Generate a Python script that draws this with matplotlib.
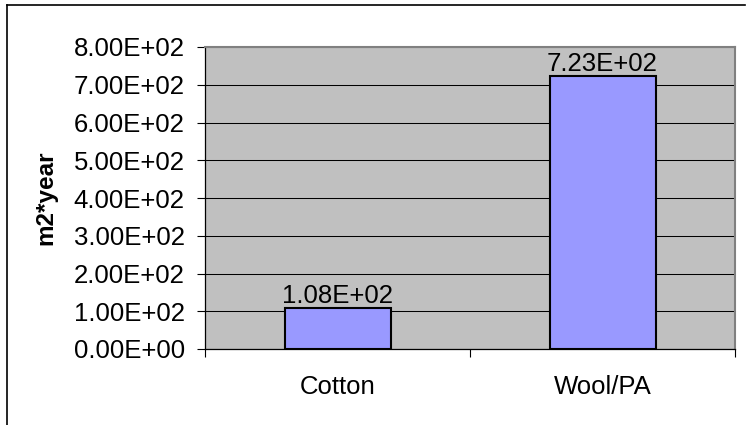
import matplotlib
matplotlib.use("Agg")
import matplotlib.pyplot as plt
from matplotlib.ticker import FuncFormatter, FixedLocator
from matplotlib.lines import Line2D

categories = ["Cotton", "Wool/PA"]
values = [108, 723]
ylabel = "m2*year"

plt.rcParams['font.family'] = ['Liberation Sans', 'DejaVu Sans']

fig = plt.figure(figsize=(7.47, 4.25), dpi=100)
ax = fig.add_axes([205/747, 1-349/425, 530/747, 302/425])
ax.set_facecolor('#C0C0C0')

x = list(range(len(categories)))
bars = ax.bar(x, values, width=0.40, color='#9999FF', edgecolor='black',
              linewidth=1.5, zorder=3)
ax.bar_label(bars, labels=[f"{v:.2E}" for v in values], fontsize=18.5, padding=0)

ax.set_xlim(-0.5, len(categories) - 0.5)
ax.set_ylim(0, 800)
ax.set_yticks(range(0, 801, 100))
ax.yaxis.set_major_formatter(FuncFormatter(lambda v, p: f"{v:.2E}"))
ax.yaxis.grid(True, color='black', linewidth=0.75, zorder=1)
ax.set_axisbelow(True)

ax.set_xticks(x)
ax.set_xticklabels(categories)
ax.xaxis.set_minor_locator(FixedLocator([-0.5, 0.5, 1.5]))
ax.tick_params(axis='x', which='major', length=0, pad=19, labelsize=18.5)
ax.tick_params(axis='x', which='minor', length=5.5, width=0.8, color='black')
ax.tick_params(axis='y', length=5.5, width=0.8, pad=9, labelsize=18.5)

ax.set_ylabel(ylabel, fontsize=17.5, fontweight='bold', labelpad=12)

for side in ['top', 'right']:
    ax.spines[side].set_color('#808080')
    ax.spines[side].set_linewidth(1.5)
for side in ['left', 'bottom']:
    ax.spines[side].set_color('black')
    ax.spines[side].set_linewidth(0.9)

# outer chart frame (left and top edges visible)
fig.add_artist(Line2D([7/747, 7/747], [0, 1-5/425], color='black', linewidth=1.2,
                      transform=fig.transFigure))
fig.add_artist(Line2D([7/747, 745/747], [1-5/425, 1-5/425], color='black', linewidth=1.2,
                      transform=fig.transFigure))

fig.savefig("out.png", dpi=100)
